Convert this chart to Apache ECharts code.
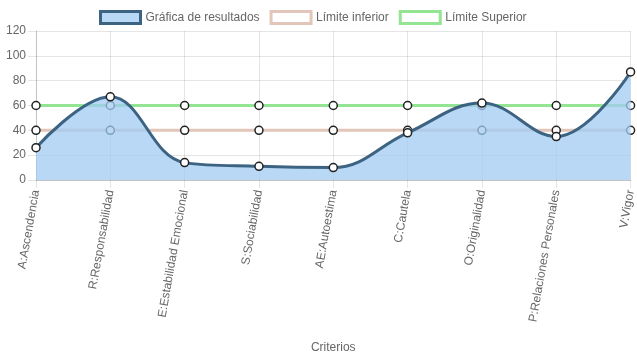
<!DOCTYPE html>
<html><head><meta charset="utf-8">
<script src="https://cdn.jsdelivr.net/npm/echarts@6/dist/echarts.min.js"></script>
<style>html,body{margin:0;padding:0;background:#fff}#c{width:637px;height:359px}</style>
</head><body><div id="c"></div>
<script>
const categories = ["A:Ascendencia","R:Responsabilidad","E:Estabilidad Emocional","S:Sociabilidad","AE:Autoestima","C:Cautela","O:Originalidad","P:Relaciones Personales","V:Vigor"];
const resultados = [26, 67, 14, 11, 10, 38, 62, 35, 87];
const limiteInferior = [40, 40, 40, 40, 40, 40, 40, 40, 40];
const limiteSuperior = [60, 60, 60, 60, 60, 60, 60, 60, 60];
const seriesNames = ["Gráfica de resultados", "Límite inferior", "Límite Superior"];
const xAxisName = "Criterios";

const font = "Liberation Sans, Arial, sans-serif";
const txt = "#666";
const grid = "rgba(0,0,0,0.1)";
const chart = echarts.init(document.getElementById('c'), null, {renderer: 'canvas'});
const mk = {symbol: 'circle', symbolSize: 8, showSymbol: true};
chart.setOption({
  animation: false,
  textStyle: {fontFamily: font},
  legend: {
    top: 5, left: 94, itemWidth: 40, itemHeight: 12, itemGap: 10, icon: 'rect',
    textStyle: {color: txt, fontSize: 12, fontFamily: font},
    data: [
      {name: seriesNames[0], itemStyle: {color: 'rgb(184,216,246)', borderColor: '#3d6382', borderWidth: 3}},
      {name: seriesNames[1], itemStyle: {color: '#fff', borderColor: '#e2c6ba', borderWidth: 3}},
      {name: seriesNames[2], itemStyle: {color: '#fff', borderColor: '#93e593', borderWidth: 3}}
    ]
  },
  grid: {left: 36, right: 4, top: 31, bottom: 179, containLabel: false},
  xAxis: {
    type: 'category', data: categories, boundaryGap: false,
    name: xAxisName, nameLocation: 'middle', nameGap: 162,
    nameTextStyle: {color: txt, fontSize: 12, fontFamily: font},
    axisLine: {show: true, lineStyle: {color: 'rgba(0,0,0,0.15)'}},
    axisTick: {show: true, length: 8, alignWithLabel: true, lineStyle: {color: grid}},
    axisLabel: {rotate: 80, color: txt, fontSize: 12, fontFamily: font, margin: 10, interval: 0},
    splitLine: {show: true, lineStyle: {color: grid}}
  },
  yAxis: {
    type: 'value', min: 0, max: 120, interval: 20,
    axisLine: {show: true, lineStyle: {color: 'rgba(0,0,0,0.15)'}},
    axisTick: {show: true, length: 8, lineStyle: {color: grid}},
    axisLabel: {color: txt, fontSize: 12, fontFamily: font, margin: 10},
    splitLine: {show: true, lineStyle: {color: grid}}
  },
  series: [
    Object.assign({name: seriesNames[0], type: 'line', data: resultados, smooth: 0.4, z: 5,
      lineStyle: {color: '#3d6382', width: 3},
      itemStyle: {color: '#fff', borderColor: '#222', borderWidth: 1.5},
      areaStyle: {color: 'rgba(160,203,243,0.75)', opacity: 1, origin: 'start'}}, mk),
    Object.assign({name: seriesNames[1], type: 'line', data: limiteInferior, z: 2,
      lineStyle: {color: '#e2c6ba', width: 3},
      itemStyle: {color: '#fff', borderColor: '#222', borderWidth: 1.5}}, mk),
    Object.assign({name: seriesNames[2], type: 'line', data: limiteSuperior, z: 2,
      lineStyle: {color: '#93e593', width: 3},
      itemStyle: {color: '#fff', borderColor: '#222', borderWidth: 1.5}}, mk)
  ]
});
</script></body></html>
